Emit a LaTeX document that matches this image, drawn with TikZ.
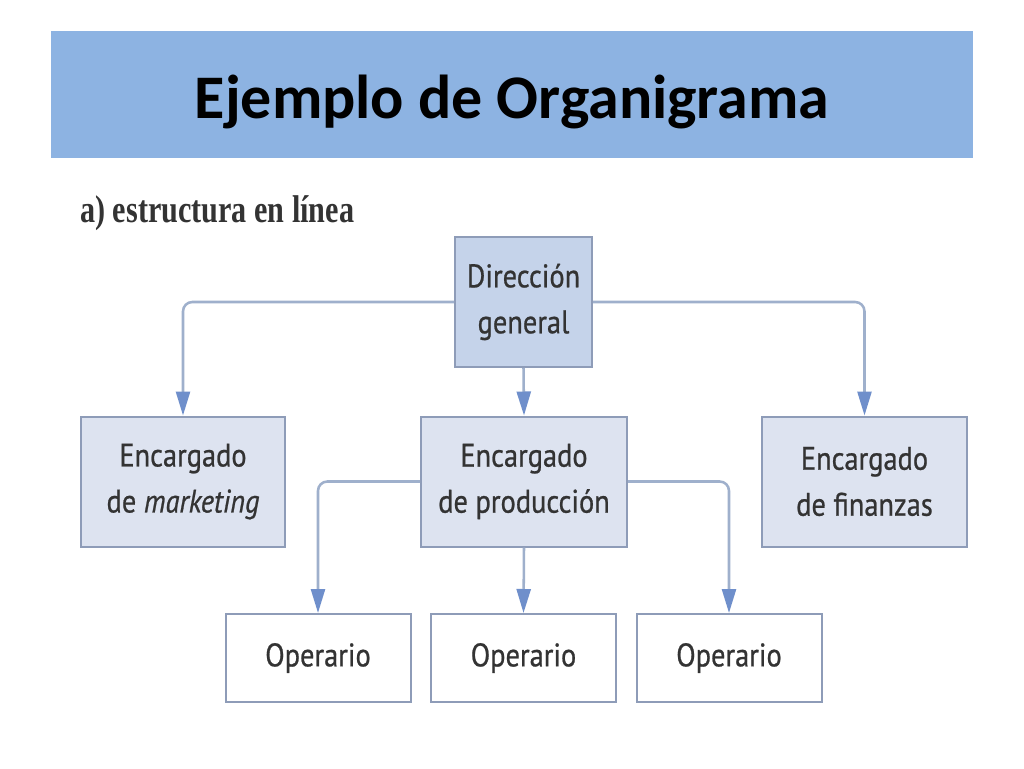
\documentclass[tikz,border=0pt]{standalone}
\usepackage{fontspec}
\setmainfont{Carlito}
\newfontfamily\nodefont[FakeStretch=0.87,FakeBold=0.7]{PT Sans}
\newfontfamily\subfont[FakeStretch=0.78]{Liberation Serif}
\usetikzlibrary{arrows.meta}
\definecolor{banner}{HTML}{8DB3E2}
\definecolor{boxfill}{HTML}{DDE3F0}
\definecolor{topfill}{HTML}{C5D3EA}
\definecolor{boxline}{HTML}{8E9CB8}
\definecolor{conline}{HTML}{9FB0CC}
\definecolor{arrowcol}{HTML}{6F8FCB}
\definecolor{txt}{HTML}{333333}
\tikzset{
  box/.style={draw=boxline, line width=1.5pt, fill=boxfill, minimum height=97.5pt,
    align=center, inner sep=0pt, text=txt, font=\nodefont\fontsize{24.5pt}{34.5pt}\selectfont},
  opbox/.style={box, fill=white, minimum height=66pt, minimum width=138.75pt},
  conn/.style={draw=conline, line width=1.9pt, rounded corners=7pt,
    -{Triangle[length=18pt, width=10.5pt, color=arrowcol]}}
}
\begin{document}
\begin{tikzpicture}[x=0.75pt, y=-0.75pt]
\useasboundingbox (0,0) rectangle (1024,768);
\fill[white] (0,0) rectangle (1024,768);
\fill[banner] (51,31) rectangle (973,158);
\node[anchor=base, font=\bfseries\fontsize{46.5pt}{50pt}\selectfont] (title) at (512,118) {Ejemplo de Organigrama};
\node[anchor=base west, inner sep=0pt, text=txt, font=\subfont\bfseries\fontsize{29pt}{32pt}\selectfont] (sub) at (80,222) {a) estructura en línea};

\node[box, fill=topfill, minimum width=102.75pt] (dir) at (523.5,302) {Dirección\\general};
\node[box, minimum width=153pt] (mkt) at (183,481.5) {Encargado\\de \textit{marketing}};
\node[box, minimum width=154.5pt] (prod) at (524,481.5) {Encargado\\de producción};
\node[box, minimum width=153.75pt] (fin) at (864.5,481.5) {Encargado\\de finanzas};
\node[opbox] (op1) at (318,658) {Operario};
\node[opbox] (op2) at (523.5,658) {Operario};
\node[opbox] (op3) at (729,658) {Operario};

\draw[conn] (dir.west) -| (mkt.north);
\draw[conn] (dir.east) -| (fin.north);
\draw[conn] (dir.south) -- (prod.north);
\draw[conn] (prod.west) -| (op1.north);
\draw[conn] (prod.south) -- (op2.north);
\draw[conn] (prod.east) -| (op3.north);
\end{tikzpicture}
\end{document}
